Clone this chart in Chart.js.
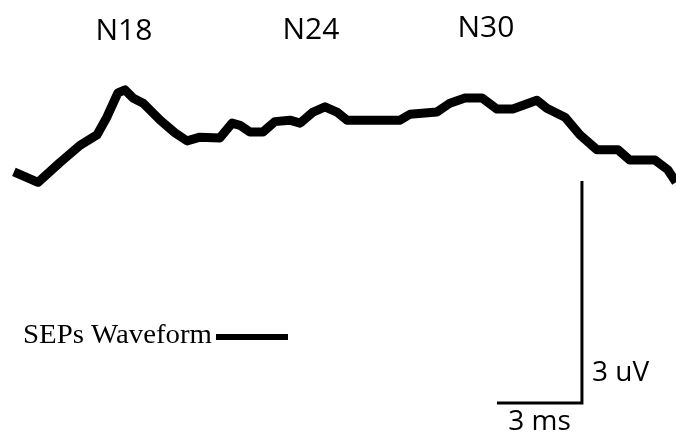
<!DOCTYPE html>
<html>
<head>
<meta charset="utf-8">
<script src="https://cdn.jsdelivr.net/npm/chart.js@4.4.1/dist/chart.umd.min.js"></script>
<style>
  html, body { margin: 0; padding: 0; background: #fff; }
  canvas { display: block; }
</style>
</head>
<body>
<canvas id="chart" width="676" height="435"></canvas>
<script>
// SEP waveform, time in ms, amplitude in uV
const times = [14.08, 14.93, 15.71, 16.41, 17.01, 17.36, 17.75, 18.00, 18.28, 18.64,
    19.24, 19.76, 20.19, 20.65, 21.35, 21.78, 22.06, 22.41, 22.87, 23.29,
    23.82, 24.18, 24.64, 25.06, 25.48, 25.84, 27.71, 28.06, 29.01, 29.47,
    30.00, 30.60, 31.13, 31.69, 32.54, 32.89, 33.53, 34.06, 34.66, 35.40,
    35.82, 36.71, 37.16, 37.45];
const amplitudes = [-0.54, -0.68, -0.41, -0.18, -0.04, 0.20, 0.53, 0.57, 0.46, 0.39,
    0.16, -0.01, -0.12, -0.07, -0.08, 0.12, 0.09, 0.00, 0.00, 0.14,
    0.16, 0.12, 0.27, 0.34, 0.27, 0.16, 0.16, 0.24, 0.27, 0.39,
    0.46, 0.46, 0.31, 0.31, 0.43, 0.32, 0.20, -0.04, -0.24, -0.24,
    -0.38, -0.38, -0.51, -0.68];

// peak labels
const peakLabels = ['N18', 'N24', 'N30'];
const peakTimes = [17.96, 24.56, 30.74];
const peakLevels = [1.36, 1.37, 1.40];

// calibration bar: 3 ms x 3 uV
const barTimes = [31.13, 34.13, 34.13];
const barAmps = [-3.662, -3.662, -0.662];
const barLabels = ['3 ms', '3 uV'];

const seriesName = 'SEPs Waveform';

const toPoints = (xs, ys) => xs.map((x, i) => ({ x: x, y: ys[i] }));

const textPlugin = {
    id: 'texts',
    afterDraw(chart) {
        const ctx = chart.ctx;
        const xs = chart.scales.x;
        const ys = chart.scales.y;
        ctx.save();
        ctx.fillStyle = '#000';

        // peak names
        ctx.font = '30px "Open Sans"';
        ctx.textAlign = 'center';
        ctx.textBaseline = 'middle';
        peakLabels.forEach((t, i) => {
            ctx.fillText(t, xs.getPixelForValue(peakTimes[i]), ys.getPixelForValue(peakLevels[i]));
        });

        // calibration labels
        ctx.font = '28px "Open Sans"';
        const hx0 = xs.getPixelForValue(barTimes[0]);
        const hx1 = xs.getPixelForValue(barTimes[1]);
        const hy = ys.getPixelForValue(barAmps[0]);
        ctx.textAlign = 'center';
        ctx.fillText(barLabels[0], (hx0 + hx1) / 2, hy + 19);
        ctx.textAlign = 'left';
        ctx.fillText(barLabels[1], hx1 + 10, hy - 30);

        // legend (text stretched a bit to match the wider serif face)
        ctx.font = '27px "Liberation Serif"';
        ctx.textAlign = 'left';
        ctx.textBaseline = 'alphabetic';
        const w = ctx.measureText(seriesName).width;
        ctx.save();
        ctx.translate(23, 343);
        ctx.scale(189 / w, 1);
        ctx.fillText(seriesName, 0, 0);
        ctx.restore();
        ctx.fillRect(216, 334, 72, 6);
        ctx.restore();
    }
};

document.addEventListener('DOMContentLoaded', () => {
    const el = document.getElementById('chart');
    new Chart(el.getContext('2d'), {
        type: 'line',
        data: {
            datasets: [{
                label: seriesName,
                data: toPoints(times, amplitudes),
                borderColor: '#000',
                borderWidth: 9,
                borderJoinStyle: 'round',
                pointRadius: 0,
                tension: 0,
                clip: false
            }, {
                label: 'scale',
                data: toPoints(barTimes, barAmps),
                borderColor: '#000',
                borderWidth: 3,
                borderJoinStyle: 'miter',
                pointRadius: 0,
                tension: 0
            }]
        },
        plugins: [textPlugin],
        options: {
            responsive: false,
            animation: false,
            layout: { padding: 0 },
            plugins: {
                legend: { display: false },
                tooltip: { enabled: false }
            },
            scales: {
                x: { type: 'linear', min: 13.588, max: 37.45, display: false },
                y: { min: -4.095, max: 1.784, display: false }
            }
        }
    });
});
</script>
</body>
</html>
